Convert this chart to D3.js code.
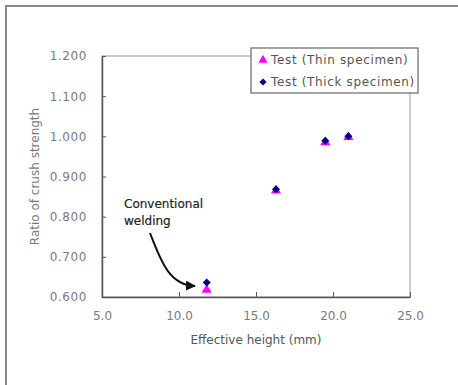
<!DOCTYPE html>
<html>
<head>
<meta charset="utf-8">
<script src="https://cdn.jsdelivr.net/npm/d3@7"></script>
<style>
    body { margin: 0; background: #fff; }
    svg { display: block; font-family: "DejaVu Sans", sans-serif; }
</style>
</head>
<body>
<script>
// series values
const thinX = [11.8, 16.3, 19.5, 21.0];
const thinY = [0.618, 0.865, 0.985, 0.998];
const thickX = [11.8, 16.3, 19.5, 21.0];
const thickY = [0.636, 0.868, 0.989, 1.000];

const xTicks = [5, 10, 15, 20, 25];
const yTicks = [0.6, 0.7, 0.8, 0.9, 1.0, 1.1, 1.2];
const seriesNames = ["Test (Thin specimen)", "Test (Thick specimen)"];

const width = 458, height = 385;
const margin = {top: 56, right: 48, bottom: 88, left: 102};

const svg = d3.select("body").append("svg")
    .attr("width", width)
    .attr("height", height);

// outer frame (only left/top edges visible in the crop)
svg.append("rect")
    .attr("x", 6).attr("y", 6)
    .attr("width", width + 20).attr("height", height + 20)
    .attr("fill", "none")
    .attr("stroke", "#8a8a8a")
    .attr("stroke-width", 2);

const x = d3.scaleLinear().domain([5, 25]).range([margin.left, width - margin.right]);
const y = d3.scaleLinear().domain([0.6, 1.2]).range([height - margin.bottom, margin.top]);

// plot border
svg.append("rect")
    .attr("x", x(5)).attr("y", y(1.2))
    .attr("width", x(25) - x(5)).attr("height", y(0.6) - y(1.2))
    .attr("fill", "none")
    .attr("stroke", "#999")
    .attr("stroke-width", 1);

const xAxis = svg.append("g")
    .attr("transform", `translate(0,${y(0.6)})`)
    .call(d3.axisBottom(x).tickValues(xTicks).tickSizeInner(-5).tickSizeOuter(0).tickPadding(14).tickFormat(d3.format(".1f")));

const yAxis = svg.append("g")
    .attr("transform", `translate(${x(5)},0)`)
    .call(d3.axisLeft(y).tickValues(yTicks).tickSizeInner(-4).tickSizeOuter(0).tickPadding(15).tickFormat(d3.format(".3f")));

[xAxis, yAxis].forEach(a => {
    a.select(".domain").attr("stroke", "#555").attr("stroke-width", 1.5);
    a.selectAll(".tick line").attr("stroke", "#555");
    a.selectAll(".tick text").attr("fill", "#7a7a7a")
        .attr("font-family", "\"DejaVu Sans\", sans-serif")
        .style("font-size", "12px");
});
yAxis.selectAll(".tick text").style("letter-spacing", "0.6px");

svg.append("text")
    .attr("x", (x(5) + x(25)) / 2)
    .attr("y", 344)
    .attr("text-anchor", "middle")
    .attr("fill", "#555")
    .attr("font-size", 12)
    .text("Effective height (mm)");

svg.append("text")
    .attr("transform", `translate(39,${(y(0.6) + y(1.2)) / 2}) rotate(-90)`)
    .attr("text-anchor", "middle")
    .attr("fill", "#7a7a7a")
    .attr("font-size", 12)
    .text("Ratio of crush strength");

const triangle = d3.symbol().type(d3.symbolTriangle).size(45);
const diamond = d3.symbol().type(d3.symbolSquare).size(32);

svg.append("g").selectAll("path")
    .data(thinX.map((v, i) => [v, thinY[i]]))
    .join("path")
    .attr("d", triangle)
    .attr("transform", d => `translate(${x(d[0])},${y(d[1])})`)
    .attr("fill", "#ff00ff");

svg.append("g").selectAll("path")
    .data(thickX.map((v, i) => [v, thickY[i]]))
    .join("path")
    .attr("d", diamond)
    .attr("transform", d => `translate(${x(d[0])},${y(d[1])}) rotate(45)`)
    .attr("fill", "#000080");

// annotation
svg.append("defs").append("marker")
    .attr("id", "arrow")
    .attr("viewBox", "0 0 10 10")
    .attr("refX", 9).attr("refY", 5)
    .attr("markerWidth", 5).attr("markerHeight", 5)
    .attr("orient", "auto")
    .append("path")
    .attr("d", "M0,0L10,5L0,10z")
    .attr("fill", "#111");

const note = svg.append("text")
    .attr("x", 124).attr("y", 208)
    .attr("fill", "#222")
    .attr("font-size", 12)
    .attr("stroke", "#222")
    .attr("stroke-width", 0.2);
note.append("tspan").attr("x", 124).text("Conventional");
note.append("tspan").attr("x", 124).attr("dy", 17).text("welding");

svg.append("path")
    .attr("d", "M150,233 C160,258 168,285 195,286")
    .attr("fill", "none")
    .attr("stroke", "#111")
    .attr("stroke-width", 2)
    .attr("marker-end", "url(#arrow)");

// legend
const legend = svg.append("g").attr("transform", "translate(251,48)");
legend.append("rect")
    .attr("width", 167).attr("height", 45)
    .attr("fill", "#fff")
    .attr("stroke", "#666")
    .attr("stroke-width", 1.2);

const rows = legend.selectAll("g.row")
    .data(seriesNames)
    .join("g")
    .attr("class", "row")
    .attr("transform", (d, i) => `translate(12,${12 + i * 22})`);

rows.append("path")
    .attr("d", (d, i) => i === 0 ? triangle() : diamond())
    .attr("transform", (d, i) => i === 0 ? "scale(0.9)" : "rotate(45) scale(0.9)")
    .attr("fill", (d, i) => i === 0 ? "#ff00ff" : "#000080");

rows.append("text")
    .attr("x", 8)
    .attr("dy", "0.35em")
    .attr("fill", "#555")
    .attr("font-size", 12)
    .style("letter-spacing", "0.65px")
    .text(d => d);
</script>
</body>
</html>
